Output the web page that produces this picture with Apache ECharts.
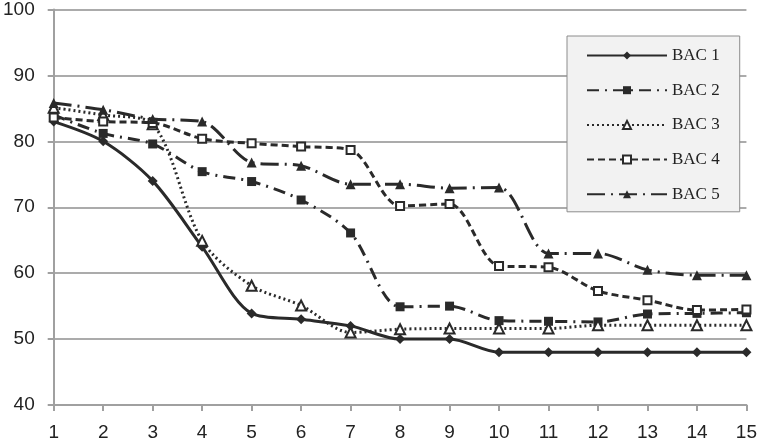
<!DOCTYPE html>
<html><head><meta charset="utf-8">
<script src="https://cdn.jsdelivr.net/npm/echarts@6/dist/echarts.min.js"></script>
<style>html,body{margin:0;padding:0;background:#fff}#c{width:760px;height:442px}</style>
</head><body><div id="c"></div>
<script>
var categories = ['1','2','3','4','5','6','7','8','9','10','11','12','13','14','15'];
var bac1 = [83.0, 80.0, 74.0, 64.0, 53.9, 53.0, 52.0, 50.0, 50.0, 48.0, 48.0, 48.0, 48.0, 48.0, 48.0];
var bac2 = [84.0, 81.2, 79.6, 75.4, 73.9, 71.1, 66.1, 54.9, 55.0, 52.8, 52.7, 52.6, 53.8, 53.9, 54.0];
var bac3 = [85.1, 84.0, 82.6, 64.9, 58.1, 55.1, 51.0, 51.5, 51.6, 51.6, 51.6, 52.1, 52.1, 52.1, 52.1];
var bac4 = [83.6, 83.0, 82.8, 80.4, 79.7, 79.2, 78.7, 70.2, 70.5, 61.1, 60.9, 57.3, 55.9, 54.4, 54.5];
var bac5 = [85.8, 84.8, 83.4, 83.0, 76.8, 76.3, 73.5, 73.5, 72.9, 73.0, 63.0, 63.0, 60.5, 59.7, 59.7];
var seriesNames = ['BAC 1','BAC 2','BAC 3','BAC 4','BAC 5'];
var yTicks = [40, 50, 60, 70, 80, 90, 100];

var ink = '#2a2a2a';
function mk(name, data, dash, symbol, size, hollow) {
  return {
    name: name, type: 'line', data: data, smooth: 0.3,
    symbol: symbol, symbolSize: size,
    lineStyle: {color: ink, width: 3, type: dash},
    itemStyle: hollow ? {color: '#fff', borderColor: ink, borderWidth: 2} : {color: ink, borderColor: ink, borderWidth: 0},
    emphasis: {disabled: true}
  };
}
var chart = echarts.init(document.getElementById('c'), null, {renderer: 'canvas'});
chart.setOption({
  animation: false,
  backgroundColor: '#fff',
  grid: {left: 53, right: 10, top: 6, bottom: 36, containLabel: false},
  legend: {
    orient: 'vertical', left: 567, top: 36,
    backgroundColor: '#f2f2f2', borderColor: '#8c8c8c', borderWidth: 1,
    padding: [11, 20, 9, 19], itemGap: 17.7, itemWidth: 80, itemHeight: 10,
    textStyle: {fontFamily: 'Liberation Serif', fontSize: 17, color: '#222'},
    data: seriesNames
  },
  xAxis: {
    type: 'category', data: categories, boundaryGap: false,
    axisLine: {lineStyle: {color: '#a0a0a0', width: 2}},
    axisTick: {show: true, alignWithLabel: true, length: 6, lineStyle: {color: '#a0a0a0', width: 2}},
    axisLabel: {fontFamily: 'Liberation Sans', fontSize: 19, color: '#222', margin: 18}
  },
  yAxis: {
    type: 'value', min: yTicks[0], max: yTicks[yTicks.length-1], interval: 10,
    axisLine: {show: true, lineStyle: {color: '#a0a0a0', width: 2}},
    axisTick: {show: true, length: 6, lineStyle: {color: '#a0a0a0', width: 2}},
    splitLine: {lineStyle: {color: '#ababab', width: 2}},
    axisLabel: {fontFamily: 'Liberation Sans', fontSize: 19, color: '#222', margin: 19}
  },
  series: [
    mk(seriesNames[0], bac1, 'solid', 'diamond', 10, false),
    mk(seriesNames[1], bac2, [12, 6, 2, 6], 'rect', 9, false),
    mk(seriesNames[2], bac3, [2, 3], 'triangle', 10, true),
    mk(seriesNames[3], bac4, [7, 4], 'rect', 8, true),
    mk(seriesNames[4], bac5, [18, 6, 2, 6], 'triangle', 10, false)
  ]
});
</script></body></html>
